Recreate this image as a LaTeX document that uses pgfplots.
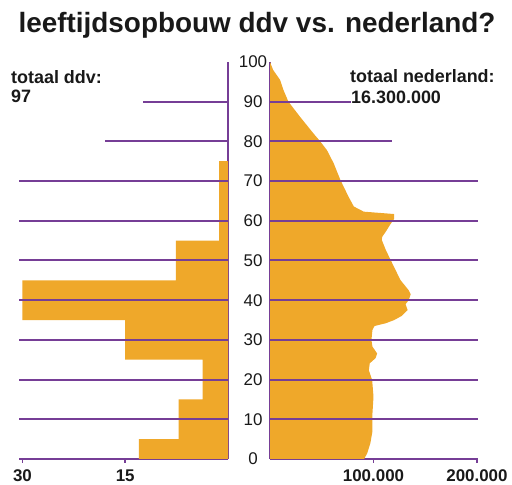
\documentclass[border=0pt]{standalone}
\usepackage{fontspec}
\setmainfont{Liberation Sans}
\usepackage{pgfplots}
\pgfplotsset{compat=1.18}

\definecolor{lijn}{RGB}{118,62,150}
\definecolor{oranje}{RGB}{239,168,42}
\definecolor{tekst}{RGB}{25,25,25}

% ddv: leeftijdsgroepen als trappenprofiel (aantal, leeftijd)
\newcommand{\ddvprofiel}{(0,0) (13,0) (13,5) (7.2,5) (7.2,15) (3.7,15) (3.7,25) (15,25) (15,35)
  (30,35) (30,45) (7.6,45) (7.6,55) (1.3,55) (1.3,75) (0,75)}

\begin{document}
\begin{tikzpicture}[x=1bp,y=1bp]
\useasboundingbox (0,0) rectangle (512,485);

\node[anchor=base, inner sep=0, text=tekst, font=\bfseries\fontsize{28}{30}\selectfont]
  at (257,452) {leeftijdsopbouw ddv vs. nederland?};
\node[anchor=base west, inner sep=0, text=tekst, font=\bfseries\fontsize{18}{20}\selectfont]
  at (11,401) {totaal ddv:};
\node[anchor=base west, inner sep=0, text=tekst, font=\bfseries\fontsize{18}{20}\selectfont]
  at (11,382) {97};
\node[anchor=base west, inner sep=0, text=tekst, font=\bfseries\fontsize{18}{20}\selectfont]
  at (350,402) {totaal nederland:};
\node[anchor=base west, inner sep=0, text=tekst, font=\bfseries\fontsize{18}{20}\selectfont]
  at (351,381) {16.300.000};

\pgfplotsset{
  piramide/.style={
    scale only axis, clip=false,
    height=397bp, ymin=0, ymax=100,
    axis x line*=bottom,
    axis line style={draw=lijn, line width=2bp, -},
    tick align=outside, major tick length=4bp,
    xtick style={draw=lijn, line width=1.6bp},
    ytick style={draw=none},
    xticklabel style={text=tekst, font=\bfseries\fontsize{17}{17}\selectfont, yshift=-3bp},
    scaled x ticks=false,
  },
  rasterlijn/.style={draw=lijn, line width=2bp},
}

% ddv (links, naar links aflopend); oorsprong rechtsonder
\begin{axis}[piramide,
  at={(228bp,26bp)}, anchor=origin,
  width=209bp, xmin=0, xmax=30.5, x dir=reverse,
  axis y line*=right,
  xtick={15,30}, xticklabels={15,30},
  ytick={0,10,20,30,40,50,60,70,80,90,100},
  yticklabels={0,10,20,30,40,50,60,70,80,90,100},
  yticklabel style={anchor=center, xshift=21bp, text=tekst,
    font=\fontsize{17}{17}\selectfont},
]
\addplot[fill=oranje, draw=none] coordinates {\ddvprofiel};
\addplot[rasterlijn] coordinates {(0,10) (30.5,10)};
\addplot[rasterlijn] coordinates {(0,20) (30.5,20)};
\addplot[rasterlijn] coordinates {(0,30) (30.5,30)};
\addplot[rasterlijn] coordinates {(0,40) (30.5,40)};
\addplot[rasterlijn] coordinates {(0,50) (30.5,50)};
\addplot[rasterlijn] coordinates {(0,60) (30.5,60)};
\addplot[rasterlijn] coordinates {(0,70) (30.5,70)};
\addplot[rasterlijn] coordinates {(0,80) (17.9,80)};
\addplot[rasterlijn] coordinates {(0,90) (12.4,90)};
\end{axis}

% nederland (rechts)
\begin{axis}[piramide,
  at={(270bp,26bp)}, anchor=origin,
  width=208bp, xmin=0, xmax=201000,
  axis y line*=left,
  xtick={100000,200000}, xticklabels={100.000,200.000},
  ytick=\empty,
]
\addplot[fill=oranje, draw=none] coordinates {
  (0,0) (91000,0) (94000,1.5) (97000,4) (99000,7) (99000,11.5) (100000,15.7)
  (98700,19.9) (95500,22.4) (96400,24.1) (102000,25.4) (103500,26.6) (99000,28.3)
  (98000,30) (99000,32.5) (101000,33.5) (112000,34.2) (120000,35) (127000,36)
  (133000,37.5) (131000,39) (134000,40) (136000,41.5) (134000,42.5) (126000,45.1)
  (117000,49.9) (112000,52.6) (108000,55.2) (108500,56) (112000,57.3) (116000,59)
  (120000,60.5) (120000,61.7) (90600,62.3) (81000,63.6) (76000,66) (68000,70.3)
  (61500,74.5) (55000,77.8) (48500,80) (42000,82) (29000,86.2) (17800,90)
  (12900,93) (9700,95.5) (3000,98) (0,100)
};
\addplot[rasterlijn] coordinates {(0,10) (201000,10)};
\addplot[rasterlijn] coordinates {(0,20) (201000,20)};
\addplot[rasterlijn] coordinates {(0,30) (201000,30)};
\addplot[rasterlijn] coordinates {(0,40) (201000,40)};
\addplot[rasterlijn] coordinates {(0,50) (201000,50)};
\addplot[rasterlijn] coordinates {(0,60) (201000,60)};
\addplot[rasterlijn] coordinates {(0,70) (201000,70)};
\addplot[rasterlijn] coordinates {(0,80) (118000,80)};
\addplot[rasterlijn] coordinates {(0,90) (78000,90)};
\end{axis}
\end{tikzpicture}
\end{document}
